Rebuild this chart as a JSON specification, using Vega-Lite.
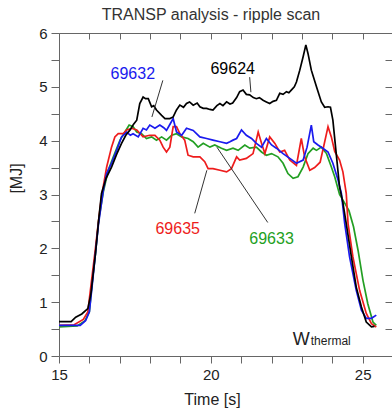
{
  "$schema": "https://vega.github.io/schema/vega-lite/v6.json",
  "width": 334,
  "height": 323,
  "autosize": "none",
  "padding": {"left": 59, "top": 33, "right": 0, "bottom": 56},
  "background": "white",
  "config": {
    "view": {"stroke": null},
    "font": "Liberation Sans",
    "axis": {"labelFont": "Liberation Sans", "titleFont": "Liberation Sans", "grid": false}
  },
  "title": {
    "text": "TRANSP analysis - ripple scan",
    "fontSize": 16,
    "fontWeight": "normal",
    "font": "Liberation Sans",
    "color": "#333333",
    "anchor": "middle",
    "dx": -15,
    "offset": 3
  },
  "datasets": {
    "curves": [
      {"s": "69633", "t": 15.0, "w": 0.54}, {"s": "69633", "t": 15.6, "w": 0.56}, {"s": "69633", "t": 15.85, "w": 0.65}, {"s": "69633", "t": 16.0, "w": 0.82}, {"s": "69633", "t": 16.1, "w": 1.4}, {"s": "69633", "t": 16.2, "w": 1.9}, {"s": "69633", "t": 16.3, "w": 2.5}, {"s": "69633", "t": 16.46, "w": 3.05}, {"s": "69633", "t": 16.62, "w": 3.45}, {"s": "69633", "t": 16.79, "w": 3.7}, {"s": "69633", "t": 17.01, "w": 4.01}, {"s": "69633", "t": 17.17, "w": 4.16}, {"s": "69633", "t": 17.31, "w": 4.29}, {"s": "69633", "t": 17.44, "w": 4.26}, {"s": "69633", "t": 17.56, "w": 4.16}, {"s": "69633", "t": 17.72, "w": 4.13}, {"s": "69633", "t": 17.88, "w": 4.04}, {"s": "69633", "t": 18.05, "w": 4.07}, {"s": "69633", "t": 18.21, "w": 4.01}, {"s": "69633", "t": 18.38, "w": 4.07}, {"s": "69633", "t": 18.54, "w": 4.01}, {"s": "69633", "t": 18.71, "w": 4.1}, {"s": "69633", "t": 18.87, "w": 4.13}, {"s": "69633", "t": 19.04, "w": 4.07}, {"s": "69633", "t": 19.25, "w": 4.04}, {"s": "69633", "t": 19.42, "w": 3.98}, {"s": "69633", "t": 19.58, "w": 3.88}, {"s": "69633", "t": 19.75, "w": 3.95}, {"s": "69633", "t": 19.97, "w": 3.88}, {"s": "69633", "t": 20.13, "w": 3.92}, {"s": "69633", "t": 20.35, "w": 3.86}, {"s": "69633", "t": 20.52, "w": 3.82}, {"s": "69633", "t": 20.73, "w": 3.86}, {"s": "69633", "t": 20.9, "w": 3.82}, {"s": "69633", "t": 21.12, "w": 3.92}, {"s": "69633", "t": 21.28, "w": 3.86}, {"s": "69633", "t": 21.5, "w": 3.88}, {"s": "69633", "t": 21.67, "w": 3.79}, {"s": "69633", "t": 21.83, "w": 3.73}, {"s": "69633", "t": 22.0, "w": 3.76}, {"s": "69633", "t": 22.21, "w": 3.7}, {"s": "69633", "t": 22.38, "w": 3.58}, {"s": "69633", "t": 22.54, "w": 3.39}, {"s": "69633", "t": 22.71, "w": 3.3}, {"s": "69633", "t": 22.87, "w": 3.33}, {"s": "69633", "t": 23.04, "w": 3.51}, {"s": "69633", "t": 23.2, "w": 3.76}, {"s": "69633", "t": 23.37, "w": 3.86}, {"s": "69633", "t": 23.48, "w": 3.82}, {"s": "69633", "t": 23.64, "w": 3.88}, {"s": "69633", "t": 23.81, "w": 3.76}, {"s": "69633", "t": 23.97, "w": 3.51}, {"s": "69633", "t": 24.08, "w": 3.33}, {"s": "69633", "t": 24.24, "w": 3.0}, {"s": "69633", "t": 24.4, "w": 2.85}, {"s": "69633", "t": 24.55, "w": 2.7}, {"s": "69633", "t": 24.7, "w": 2.4}, {"s": "69633", "t": 24.85, "w": 1.96}, {"s": "69633", "t": 25.01, "w": 1.41}, {"s": "69633", "t": 25.17, "w": 0.97}, {"s": "69633", "t": 25.34, "w": 0.63}, {"s": "69633", "t": 25.45, "w": 0.57},
      {"s": "69635", "t": 15.0, "w": 0.57}, {"s": "69635", "t": 15.5, "w": 0.58}, {"s": "69635", "t": 15.8, "w": 0.68}, {"s": "69635", "t": 15.95, "w": 0.82}, {"s": "69635", "t": 16.05, "w": 1.3}, {"s": "69635", "t": 16.2, "w": 2.0}, {"s": "69635", "t": 16.3, "w": 2.5}, {"s": "69635", "t": 16.4, "w": 2.96}, {"s": "69635", "t": 16.57, "w": 3.51}, {"s": "69635", "t": 16.73, "w": 3.88}, {"s": "69635", "t": 16.84, "w": 4.07}, {"s": "69635", "t": 16.95, "w": 4.13}, {"s": "69635", "t": 17.12, "w": 4.13}, {"s": "69635", "t": 17.23, "w": 4.2}, {"s": "69635", "t": 17.39, "w": 4.23}, {"s": "69635", "t": 17.56, "w": 4.2}, {"s": "69635", "t": 17.77, "w": 4.07}, {"s": "69635", "t": 17.99, "w": 4.1}, {"s": "69635", "t": 18.16, "w": 4.1}, {"s": "69635", "t": 18.32, "w": 4.01}, {"s": "69635", "t": 18.43, "w": 3.88}, {"s": "69635", "t": 18.54, "w": 3.79}, {"s": "69635", "t": 18.65, "w": 3.88}, {"s": "69635", "t": 18.76, "w": 4.26}, {"s": "69635", "t": 18.87, "w": 4.26}, {"s": "69635", "t": 18.98, "w": 4.13}, {"s": "69635", "t": 19.14, "w": 4.01}, {"s": "69635", "t": 19.25, "w": 3.73}, {"s": "69635", "t": 19.42, "w": 3.7}, {"s": "69635", "t": 19.64, "w": 3.7}, {"s": "69635", "t": 19.8, "w": 3.61}, {"s": "69635", "t": 19.91, "w": 3.48}, {"s": "69635", "t": 20.07, "w": 3.48}, {"s": "69635", "t": 20.3, "w": 3.45}, {"s": "69635", "t": 20.52, "w": 3.42}, {"s": "69635", "t": 20.68, "w": 3.48}, {"s": "69635", "t": 20.85, "w": 3.7}, {"s": "69635", "t": 20.95, "w": 3.64}, {"s": "69635", "t": 21.17, "w": 3.67}, {"s": "69635", "t": 21.39, "w": 3.76}, {"s": "69635", "t": 21.56, "w": 4.16}, {"s": "69635", "t": 21.67, "w": 3.95}, {"s": "69635", "t": 21.78, "w": 3.76}, {"s": "69635", "t": 21.94, "w": 4.07}, {"s": "69635", "t": 22.11, "w": 3.95}, {"s": "69635", "t": 22.27, "w": 3.79}, {"s": "69635", "t": 22.43, "w": 3.82}, {"s": "69635", "t": 22.6, "w": 3.64}, {"s": "69635", "t": 22.82, "w": 3.54}, {"s": "69635", "t": 22.98, "w": 4.04}, {"s": "69635", "t": 23.09, "w": 3.7}, {"s": "69635", "t": 23.26, "w": 3.45}, {"s": "69635", "t": 23.42, "w": 3.5}, {"s": "69635", "t": 23.6, "w": 3.6}, {"s": "69635", "t": 23.72, "w": 3.9}, {"s": "69635", "t": 23.86, "w": 4.26}, {"s": "69635", "t": 23.97, "w": 4.07}, {"s": "69635", "t": 24.08, "w": 3.8}, {"s": "69635", "t": 24.24, "w": 3.64}, {"s": "69635", "t": 24.35, "w": 3.42}, {"s": "69635", "t": 24.46, "w": 3.02}, {"s": "69635", "t": 24.52, "w": 2.46}, {"s": "69635", "t": 24.68, "w": 1.84}, {"s": "69635", "t": 24.9, "w": 1.22}, {"s": "69635", "t": 25.12, "w": 0.79}, {"s": "69635", "t": 25.29, "w": 0.6}, {"s": "69635", "t": 25.45, "w": 0.54},
      {"s": "69632", "t": 15.0, "w": 0.57}, {"s": "69632", "t": 15.7, "w": 0.57}, {"s": "69632", "t": 15.88, "w": 0.66}, {"s": "69632", "t": 16.0, "w": 0.82}, {"s": "69632", "t": 16.1, "w": 1.35}, {"s": "69632", "t": 16.2, "w": 1.9}, {"s": "69632", "t": 16.3, "w": 2.45}, {"s": "69632", "t": 16.46, "w": 3.08}, {"s": "69632", "t": 16.57, "w": 3.39}, {"s": "69632", "t": 16.73, "w": 3.58}, {"s": "69632", "t": 16.9, "w": 3.82}, {"s": "69632", "t": 17.06, "w": 4.07}, {"s": "69632", "t": 17.23, "w": 4.16}, {"s": "69632", "t": 17.35, "w": 4.1}, {"s": "69632", "t": 17.44, "w": 4.13}, {"s": "69632", "t": 17.61, "w": 4.07}, {"s": "69632", "t": 17.77, "w": 4.23}, {"s": "69632", "t": 17.88, "w": 4.2}, {"s": "69632", "t": 17.99, "w": 4.29}, {"s": "69632", "t": 18.16, "w": 4.23}, {"s": "69632", "t": 18.32, "w": 4.29}, {"s": "69632", "t": 18.45, "w": 4.24}, {"s": "69632", "t": 18.54, "w": 4.19}, {"s": "69632", "t": 18.65, "w": 4.3}, {"s": "69632", "t": 18.76, "w": 4.41}, {"s": "69632", "t": 18.87, "w": 4.16}, {"s": "69632", "t": 19.04, "w": 4.1}, {"s": "69632", "t": 19.2, "w": 4.23}, {"s": "69632", "t": 19.42, "w": 4.19}, {"s": "69632", "t": 19.64, "w": 4.07}, {"s": "69632", "t": 19.86, "w": 4.04}, {"s": "69632", "t": 20.07, "w": 4.01}, {"s": "69632", "t": 20.3, "w": 3.98}, {"s": "69632", "t": 20.52, "w": 3.95}, {"s": "69632", "t": 20.63, "w": 3.98}, {"s": "69632", "t": 20.73, "w": 4.01}, {"s": "69632", "t": 20.85, "w": 4.04}, {"s": "69632", "t": 21.01, "w": 4.2}, {"s": "69632", "t": 21.17, "w": 4.1}, {"s": "69632", "t": 21.34, "w": 4.04}, {"s": "69632", "t": 21.5, "w": 3.95}, {"s": "69632", "t": 21.67, "w": 3.88}, {"s": "69632", "t": 21.83, "w": 4.04}, {"s": "69632", "t": 22.0, "w": 3.92}, {"s": "69632", "t": 22.16, "w": 3.86}, {"s": "69632", "t": 22.38, "w": 3.76}, {"s": "69632", "t": 22.6, "w": 3.67}, {"s": "69632", "t": 22.82, "w": 3.58}, {"s": "69632", "t": 23.04, "w": 3.64}, {"s": "69632", "t": 23.17, "w": 3.88}, {"s": "69632", "t": 23.31, "w": 4.29}, {"s": "69632", "t": 23.39, "w": 3.98}, {"s": "69632", "t": 23.53, "w": 3.92}, {"s": "69632", "t": 23.69, "w": 3.86}, {"s": "69632", "t": 23.86, "w": 3.79}, {"s": "69632", "t": 24.02, "w": 3.58}, {"s": "69632", "t": 24.19, "w": 3.27}, {"s": "69632", "t": 24.3, "w": 3.02}, {"s": "69632", "t": 24.41, "w": 2.46}, {"s": "69632", "t": 24.57, "w": 1.84}, {"s": "69632", "t": 24.79, "w": 1.22}, {"s": "69632", "t": 24.96, "w": 0.85}, {"s": "69632", "t": 25.12, "w": 0.7}, {"s": "69632", "t": 25.29, "w": 0.7}, {"s": "69632", "t": 25.45, "w": 0.76},
      {"s": "69624", "t": 15.0, "w": 0.64}, {"s": "69624", "t": 15.4, "w": 0.64}, {"s": "69624", "t": 15.55, "w": 0.72}, {"s": "69624", "t": 15.75, "w": 0.78}, {"s": "69624", "t": 15.95, "w": 0.88}, {"s": "69624", "t": 16.05, "w": 1.15}, {"s": "69624", "t": 16.2, "w": 1.9}, {"s": "69624", "t": 16.32, "w": 2.6}, {"s": "69624", "t": 16.4, "w": 3.02}, {"s": "69624", "t": 16.55, "w": 3.3}, {"s": "69624", "t": 16.73, "w": 3.51}, {"s": "69624", "t": 16.9, "w": 3.75}, {"s": "69624", "t": 17.06, "w": 3.95}, {"s": "69624", "t": 17.2, "w": 4.1}, {"s": "69624", "t": 17.34, "w": 4.2}, {"s": "69624", "t": 17.45, "w": 4.3}, {"s": "69624", "t": 17.56, "w": 4.38}, {"s": "69624", "t": 17.66, "w": 4.69}, {"s": "69624", "t": 17.77, "w": 4.81}, {"s": "69624", "t": 17.85, "w": 4.78}, {"s": "69624", "t": 17.94, "w": 4.78}, {"s": "69624", "t": 18.05, "w": 4.63}, {"s": "69624", "t": 18.12, "w": 4.65}, {"s": "69624", "t": 18.21, "w": 4.57}, {"s": "69624", "t": 18.38, "w": 4.47}, {"s": "69624", "t": 18.49, "w": 4.41}, {"s": "69624", "t": 18.65, "w": 4.41}, {"s": "69624", "t": 18.76, "w": 4.44}, {"s": "69624", "t": 18.87, "w": 4.57}, {"s": "69624", "t": 18.98, "w": 4.66}, {"s": "69624", "t": 19.1, "w": 4.62}, {"s": "69624", "t": 19.2, "w": 4.69}, {"s": "69624", "t": 19.3, "w": 4.72}, {"s": "69624", "t": 19.42, "w": 4.66}, {"s": "69624", "t": 19.55, "w": 4.7}, {"s": "69624", "t": 19.64, "w": 4.63}, {"s": "69624", "t": 19.75, "w": 4.6}, {"s": "69624", "t": 19.86, "w": 4.6}, {"s": "69624", "t": 19.97, "w": 4.58}, {"s": "69624", "t": 20.07, "w": 4.57}, {"s": "69624", "t": 20.2, "w": 4.65}, {"s": "69624", "t": 20.3, "w": 4.69}, {"s": "69624", "t": 20.4, "w": 4.65}, {"s": "69624", "t": 20.52, "w": 4.72}, {"s": "69624", "t": 20.63, "w": 4.68}, {"s": "69624", "t": 20.72, "w": 4.7}, {"s": "69624", "t": 20.85, "w": 4.8}, {"s": "69624", "t": 20.95, "w": 4.91}, {"s": "69624", "t": 21.06, "w": 4.94}, {"s": "69624", "t": 21.17, "w": 4.86}, {"s": "69624", "t": 21.28, "w": 4.85}, {"s": "69624", "t": 21.4, "w": 4.8}, {"s": "69624", "t": 21.5, "w": 4.78}, {"s": "69624", "t": 21.6, "w": 4.8}, {"s": "69624", "t": 21.72, "w": 4.75}, {"s": "69624", "t": 21.83, "w": 4.72}, {"s": "69624", "t": 21.94, "w": 4.69}, {"s": "69624", "t": 22.05, "w": 4.73}, {"s": "69624", "t": 22.16, "w": 4.75}, {"s": "69624", "t": 22.27, "w": 4.88}, {"s": "69624", "t": 22.38, "w": 4.86}, {"s": "69624", "t": 22.49, "w": 4.91}, {"s": "69624", "t": 22.57, "w": 4.89}, {"s": "69624", "t": 22.65, "w": 4.94}, {"s": "69624", "t": 22.75, "w": 5.0}, {"s": "69624", "t": 22.82, "w": 5.09}, {"s": "69624", "t": 22.93, "w": 5.31}, {"s": "69624", "t": 23.04, "w": 5.56}, {"s": "69624", "t": 23.13, "w": 5.78}, {"s": "69624", "t": 23.2, "w": 5.62}, {"s": "69624", "t": 23.31, "w": 5.31}, {"s": "69624", "t": 23.48, "w": 5.0}, {"s": "69624", "t": 23.64, "w": 4.72}, {"s": "69624", "t": 23.75, "w": 4.62}, {"s": "69624", "t": 23.86, "w": 4.63}, {"s": "69624", "t": 23.94, "w": 4.62}, {"s": "69624", "t": 24.02, "w": 4.38}, {"s": "69624", "t": 24.13, "w": 3.76}, {"s": "69624", "t": 24.24, "w": 3.14}, {"s": "69624", "t": 24.35, "w": 2.85}, {"s": "69624", "t": 24.46, "w": 2.46}, {"s": "69624", "t": 24.63, "w": 1.84}, {"s": "69624", "t": 24.79, "w": 1.28}, {"s": "69624", "t": 24.96, "w": 0.91}, {"s": "69624", "t": 25.12, "w": 0.63}, {"s": "69624", "t": 25.29, "w": 0.54}, {"s": "69624", "t": 25.39, "w": 0.55}
    ],
    "labels": [
      {"s": "69632", "t": 17.43, "w": 5.24},
      {"s": "69624", "t": 20.72, "w": 5.33},
      {"s": "69635", "t": 18.91, "w": 2.36},
      {"s": "69633", "t": 22.0, "w": 2.17}
    ],
    "arrows": [
      {"s": "69632", "t": 18.42, "w": 5.12, "t2": 18.06, "w2": 4.44},
      {"s": "69624", "t": 21.28, "w": 5.18, "t2": 21.32, "w2": 4.9},
      {"s": "69635", "t": 19.47, "w": 2.65, "t2": 19.87, "w2": 3.45},
      {"s": "69633", "t": 21.875, "w": 2.48, "t2": 20.2, "w2": 3.88}
    ]
  },
  "layer": [
    {
      "data": {"name": "curves"},
      "mark": {"type": "line", "strokeWidth": 1.7},
      "encoding": {
        "x": {
          "field": "t", "type": "quantitative",
          "scale": {"domain": [15, 26], "nice": false, "zero": false},
          "axis": {
            "orient": "bottom",
            "values": [15, 16, 17, 18, 19, 20, 21, 22, 23, 24, 25, 26],
            "labelExpr": "(datum.value % 5 === 0 && datum.value < 26) ? datum.label : ''",
            "labelFlush": false,
            "labelOverlap": false,
            "tickSize": 7,
            "labelPadding": 4,
            "labelFontSize": 15,
            "labelColor": "#222222",
            "domainColor": "#666666",
            "tickColor": "#666666",
            "title": "Time [s]",
            "titleFontSize": 16,
            "titleFontWeight": "normal",
            "titleColor": "#222222",
            "titleX": 153,
            "titlePadding": 9
          }
        },
        "y": {
          "field": "w", "type": "quantitative",
          "scale": {"domain": [0, 6], "nice": false},
          "axis": {
            "orient": "left",
            "values": [0, 0.5, 1, 1.5, 2, 2.5, 3, 3.5, 4, 4.5, 5, 5.5, 6],
            "format": "~g",
            "labelExpr": "datum.value % 1 === 0 ? datum.label : ''",
            "labelOverlap": false,
            "labelFlush": false,
            "tickSize": 8,
            "labelPadding": 4,
            "labelFontSize": 15,
            "labelColor": "#222222",
            "domainColor": "#666666",
            "tickColor": "#666666",
            "title": "[MJ]",
            "titleFontSize": 16,
            "titleFontWeight": "normal",
            "titleColor": "#222222",
            "titleY": 145,
            "titlePadding": 14
          }
        },
        "color": {
          "field": "s", "type": "nominal",
          "scale": {"domain": ["69624", "69632", "69635", "69633"], "range": ["#000000", "#1a1aee", "#ee1c1c", "#239f23"]},
          "legend": null
        }
      }
    },
    {
      "data": {"values": [{"t": 15, "w": 0}]},
      "mark": {"type": "point", "opacity": 0},
      "encoding": {
        "x": {
          "field": "t", "type": "quantitative",
          "axis": {
            "orient": "top",
            "values": [15, 16, 17, 18, 19, 20, 21, 22, 23, 24, 25, 26],
            "labels": false,
            "tickSize": -6,
            "domainColor": "#666666",
            "tickColor": "#666666",
            "title": null
          }
        },
        "y": {
          "field": "w", "type": "quantitative",
          "axis": {
            "orient": "right",
            "values": [0, 0.5, 1, 1.5, 2, 2.5, 3, 3.5, 4, 4.5, 5, 5.5, 6],
            "labels": false,
            "tickSize": -8,
            "domainColor": "#666666",
            "tickColor": "#666666",
            "title": null
          }
        }
      }
    },
    {
      "data": {"name": "arrows"},
      "mark": {"type": "rule", "color": "#333333", "strokeWidth": 1},
      "encoding": {
        "x": {"field": "t", "type": "quantitative", "axis": null},
        "y": {"field": "w", "type": "quantitative", "axis": null},
        "x2": {"field": "t2"},
        "y2": {"field": "w2"}
      }
    },
    {
      "data": {"name": "labels"},
      "mark": {"type": "text", "fontSize": 16, "font": "Liberation Sans", "align": "center", "baseline": "middle"},
      "encoding": {
        "x": {"field": "t", "type": "quantitative", "axis": null},
        "y": {"field": "w", "type": "quantitative", "axis": null},
        "text": {"field": "s"},
        "color": {"field": "s", "type": "nominal", "legend": null}
      }
    },
    {
      "data": {"values": [{"t": 22.7, "w": 0.2, "txt": "W"}]},
      "mark": {"type": "text", "fontSize": 18, "font": "Liberation Sans", "align": "left", "baseline": "alphabetic", "color": "#222222"},
      "encoding": {
        "x": {"field": "t", "type": "quantitative", "axis": null},
        "y": {"field": "w", "type": "quantitative", "axis": null},
        "text": {"field": "txt"}
      }
    },
    {
      "data": {"values": [{"t": 23.29, "w": 0.2, "txt": "thermal"}]},
      "mark": {"type": "text", "fontSize": 12, "font": "Liberation Sans", "align": "left", "baseline": "alphabetic", "color": "#222222"},
      "encoding": {
        "x": {"field": "t", "type": "quantitative", "axis": null},
        "y": {"field": "w", "type": "quantitative", "axis": null},
        "text": {"field": "txt"}
      }
    }
  ],
  "resolve": {"axis": {"x": "independent", "y": "independent"}}
}
